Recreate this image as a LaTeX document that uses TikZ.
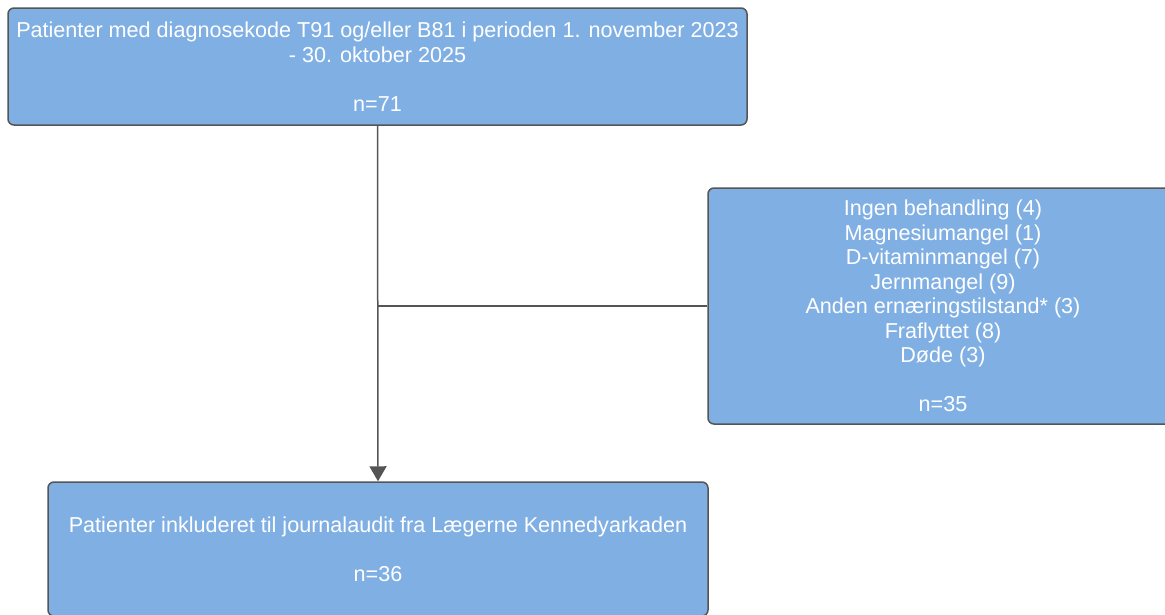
\documentclass[tikz,border=0pt]{standalone}
\usepackage{fontspec}
\setmainfont{Liberation Sans}
\usepackage{tikz}
\usetikzlibrary{arrows.meta,positioning,calc}
\definecolor{flowblue}{RGB}{127,175,227}
\definecolor{flowgray}{RGB}{85,85,85}
\tikzset{
  flowbox/.style={draw=flowgray, line width=1.5pt, fill=flowblue, rounded corners=6pt,
    text=white, align=center, inner sep=0pt, font=\fontsize{21.6}{24.5}\selectfont},
  flowline/.style={flowgray, line width=1.5pt}
}
\begin{document}
\begin{tikzpicture}[x=1pt, y=-1pt]
\useasboundingbox (0,0) rectangle (1165,614);
\clip (0,0) rectangle (1165,614);

% Screened patients
\node[flowbox, minimum width=739pt, minimum height=117pt] (screen) at (377.5,66.5)
  {Patienter med diagnosekode T91 og/eller B81 i perioden 1. november 2023\\
   - 30. oktober 2025\\[24.5pt]
   n=71};

% Excluded
\node[flowbox, minimum width=470pt, minimum height=236pt] (excl) at (943,306)
  {Ingen behandling (4)\\
   Magnesiumangel (1)\\
   D-vitaminmangel (7)\\
   Jernmangel (9)\\
   Anden ernæringstilstand* (3)\\
   Fraflyttet (8)\\
   Døde (3)\\[24.5pt]
   n=35};

% Included
\node[flowbox, minimum width=660pt, minimum height=134pt] (incl) at (378,549)
  {Patienter inkluderet til journalaudit fra Lægerne Kennedyarkaden\\[24.5pt]
   n=36};

% Connectors
\coordinate (split) at (screen.south |- excl.west);
\draw[flowline, -{Triangle[width=17pt,length=15pt]}] (screen.south) -- (incl.north);
\draw[flowline] (split) -- (excl.west);

\end{tikzpicture}
\end{document}
